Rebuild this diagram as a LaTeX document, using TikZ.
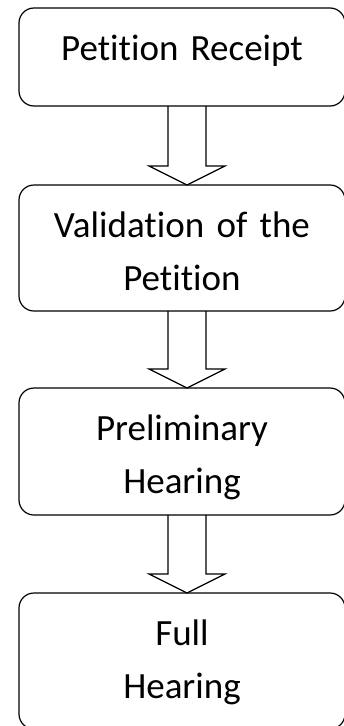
\documentclass[tikz,border=0pt]{standalone}
\usepackage{fontspec}
\setmainfont[Ligatures=NoCommon]{Carlito}
\usetikzlibrary{positioning,calc}
\tikzset{
  stage/.style={rounded corners=15pt,draw=black,line width=1.2pt,fill=white,
                inner xsep=0pt,inner ysep=0pt,outer sep=0pt,text width=326pt,
                align=center,text height=52pt,font=\fontsize{37}{53.5}\selectfont},
  fat/.style  ={line width=1.2pt,draw=black,
                to path={($(\tikztostart)+(-14pt,0)$) -- ($(\tikztotarget)+(-14pt,19pt)$)
                  -- ($(\tikztotarget)+(-33pt,19pt)$) -- ($(\tikztotarget)+(5pt,0)$)
                  -- ($(\tikztotarget)+(43pt,19pt)$) -- ($(\tikztotarget)+(24pt,19pt)$)
                  -- ($(\tikztostart)+(24pt,0)$)}}
}
\begin{document}
\begin{tikzpicture}[node distance=79pt]
    \path[use as bounding box,fill=white] (0,0) rectangle (344pt,-726pt);
    \node[stage,text depth=46pt,anchor=north] (receipt) at (182pt,-8pt) {Petition Receipt};
    \node[stage,text depth=74pt,below=of receipt] (valid) {Validation of the\\Petition};
    \node[stage,text depth=75pt,below=77pt of valid] (prelim) {Preliminary\\Hearing};
    \node[stage,text depth=84pt,below=78pt of prelim] (full) {Full\\Hearing};
    \draw[fat] (receipt.south) to (valid.north); \draw[fat] (valid.south) to (prelim.north);
    \draw[fat] (prelim.south) to (full.north);
  \end{tikzpicture}
\end{document}
